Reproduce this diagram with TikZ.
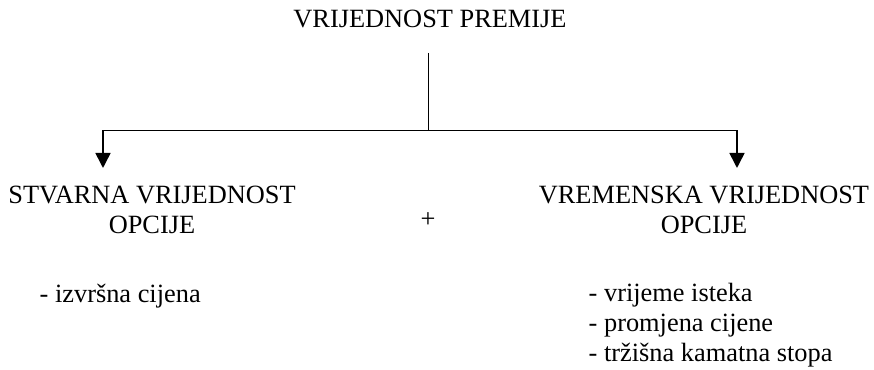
\documentclass[tikz,border=0pt]{standalone}
\usepackage{fontspec}
\setmainfont{Liberation Serif}
\usetikzlibrary{arrows.meta}

\begin{document}
\begin{tikzpicture}[
    txt/.style={font=\fontsize{7.5}{8.8}\selectfont, inner sep=0pt},
    lst/.style={inner sep=0pt, align=left, font=\fontsize{7.5}{8.5}\selectfont},
    veza/.style={line width=0.45pt},
    strel/.style={veza, -{Triangle[width=0.15cm,length=0.15cm]}}
  ]
    \useasboundingbox (0,0) rectangle (8.74,3.70);

    % naslov
    \node[txt, anchor=base] (premija) at (4.30,3.42) {VRIJEDNOST PREMIJE};

    % grananje
    \coordinate (vrh) at (4.285,3.17);
    \coordinate (grana) at (4.285,2.395);
    \coordinate (lkraj) at (1.03,2.02);
    \coordinate (dkraj) at (7.37,2.02);
    \draw[veza] (vrh) -- (grana);
    \draw[strel] (grana) -| (lkraj);
    \draw[strel] (grana) -| (dkraj);

    % dvije komponente
    \node[txt, align=center, anchor=base] (stvarna) at (1.52,1.36) {STVARNA VRIJEDNOST\\OPCIJE};
    \node[txt, align=center, anchor=base] (vremenska) at (7.04,1.36) {VREMENSKA VRIJEDNOST\\OPCIJE};
    \node[txt] (plus) at (4.28,1.50) {+};

    % faktori
    \node[lst, anchor=base west] (izvrsna) at (0.39,0.67) {- izvršna cijena};
    \node[lst, anchor=base west] (faktori) at (5.88,0.085) {- vrijeme isteka\\- promjena cijene\\- tržišna kamatna stopa};

\end{tikzpicture}
\end{document}
